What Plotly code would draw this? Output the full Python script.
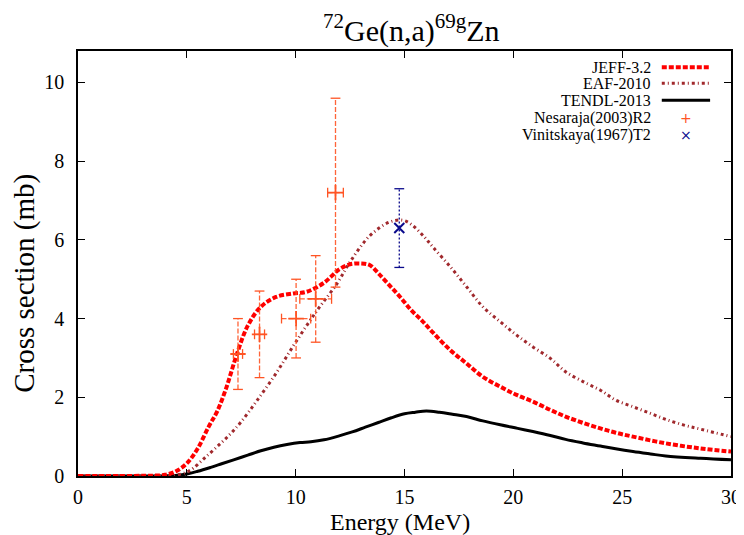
import plotly.graph_objects as go

# ---------------- data ----------------
jeff_e = [0, 1, 2, 3, 3.5, 4.0, 4.5, 5.0, 5.5, 6.0, 6.4, 6.8, 7.3, 7.8, 8.4, 9.1, 9.9, 10.5,
          11.3, 12.0, 12.5, 13.0, 13.4, 13.8, 14.3, 14.8, 15.3, 15.8, 16.3, 17.1, 17.85,
          18.6, 19.4, 20.15, 20.9, 21.7, 22.4, 23.2, 24.0, 24.7, 25.5, 27.0, 28.6, 30.0]
jeff_xs = [0, 0, 0, 0.005, 0.01, 0.03, 0.12, 0.32, 0.7, 1.25, 1.65, 2.22, 3.1, 3.82, 4.3, 4.55,
           4.64, 4.68, 4.91, 5.25, 5.38, 5.40, 5.36, 5.15, 4.85, 4.55, 4.22, 3.95, 3.65, 3.2,
           2.86, 2.52, 2.27, 2.06, 1.89, 1.68, 1.51, 1.35, 1.21, 1.10, 1.00, 0.83, 0.70, 0.62]

eaf_e = [0, 1, 2, 3, 4.0, 4.5, 5.0, 5.3, 5.8, 6.4, 7.0, 7.5, 8.2, 9.1, 10.0, 11.0, 11.9, 12.5,
         13.4, 14.3, 14.9, 15.3, 15.9, 16.3, 17.1, 17.85, 18.6, 19.4, 20.15, 20.9, 21.7, 22.4,
         23.2, 24.0, 24.7, 25.5, 26.3, 27.0, 27.8, 28.6, 30.0]
eaf_xs = [0, 0, 0, 0, 0.003, 0.02, 0.1, 0.2, 0.45, 0.75, 1.07, 1.38, 1.9, 2.61, 3.4, 4.22, 4.89,
          5.44, 6.1, 6.45, 6.5, 6.4, 6.08, 5.82, 5.32, 4.81, 4.30, 3.92, 3.58, 3.28, 2.99, 2.65,
          2.40, 2.18, 1.93, 1.76, 1.59, 1.44, 1.30, 1.19, 1.0]

tendl_e = [0, 1, 2, 3, 4.0, 4.5, 5.0, 5.5, 6.1, 6.6, 7.15, 7.8, 8.4, 9.0, 9.6, 10.2, 10.7, 11.3,
           12.0, 12.6, 13.2, 13.8, 14.4, 15.0, 15.5, 16.0, 16.6, 17.2, 17.85, 18.6, 19.4, 20.2,
           20.9, 21.7, 22.4, 23.2, 24.0, 24.7, 25.5, 26.3, 27.0, 28.6, 30.0]
tendl_xs = [0, 0, 0, 0, 0.003, 0.015, 0.05, 0.12, 0.22, 0.31, 0.41, 0.53, 0.64, 0.73, 0.80,
            0.85, 0.87, 0.92, 1.02, 1.12, 1.24, 1.36, 1.48, 1.58, 1.62, 1.65, 1.62, 1.57, 1.51,
            1.40, 1.30, 1.21, 1.13, 1.03, 0.93, 0.84, 0.76, 0.69, 0.62, 0.56, 0.51, 0.45, 0.41]

nes_e = [7.35, 8.34, 10.02, 10.92, 11.83]
nes_de = [0.21, 0.23, 0.67, 0.73, 0.36]
nes_xs = [3.1, 3.6, 4.0, 4.5, 7.2]
nes_dxs = [0.9, 1.1, 1.0, 1.1, 2.4]

vin_e = [14.76]
vin_xs = [6.3]
vin_dxs = [1.0]

x_ticks = [0, 5, 10, 15, 20, 25, 30]
y_ticks = [0, 2, 4, 6, 8, 10]

FONT = "Liberation Serif"
NES_C = "#ff5424"
VIN_C = "#0a0a8c"

fig = go.Figure()

fig.add_trace(go.Scatter(x=tendl_e, y=tendl_xs, mode="lines", name="TENDL-2013",
                         line=dict(color="black", width=3, shape="spline"), showlegend=False))
fig.add_trace(go.Scatter(x=eaf_e, y=eaf_xs, mode="lines", name="EAF-2010",
                         line=dict(color="#a0282c", width=3, dash="3px,3px,1px,3px", shape="spline"),
                         showlegend=False))
fig.add_trace(go.Scatter(x=jeff_e, y=jeff_xs, mode="lines", name="JEFF-3.2",
                         line=dict(color="#ff0000", width=4, dash="5px,2px", shape="spline"),
                         showlegend=False))

# Nesaraja error bars built from the data arrays
vx, vy, hx, hy = [], [], [], []
capv_x, capv_y, caph_x, caph_y = [], [], [], []
for x, y, dx, dy in zip(nes_e, nes_xs, nes_de, nes_dxs):
    vx += [x, x, None]
    vy += [y - dy, y + dy, None]
    hx += [x - dx, x + dx, None]
    hy += [y, y, None]
    capv_x += [x, x]
    capv_y += [y - dy, y + dy]
    caph_x += [x - dx, x + dx]
    caph_y += [y, y]

fig.add_trace(go.Scatter(x=vx, y=vy, mode="lines", line=dict(color=NES_C, width=1.3, dash="5px,2px"),
                         opacity=0.9, showlegend=False, hoverinfo="skip"))
fig.add_trace(go.Scatter(x=hx, y=hy, mode="lines", line=dict(color=NES_C, width=1.3, dash="5px,2px"),
                         opacity=0.9, showlegend=False, hoverinfo="skip"))
fig.add_trace(go.Scatter(x=capv_x, y=capv_y, mode="markers",
                         marker=dict(symbol="line-ew", size=7, line=dict(color=NES_C, width=1.3)),
                         showlegend=False, hoverinfo="skip"))
fig.add_trace(go.Scatter(x=caph_x, y=caph_y, mode="markers",
                         marker=dict(symbol="line-ns", size=7, line=dict(color=NES_C, width=1.3)),
                         showlegend=False, hoverinfo="skip"))
fig.add_trace(go.Scatter(x=nes_e, y=nes_xs, mode="markers", name="Nesaraja(2003)R2",
                         marker=dict(symbol="cross-thin", size=11, line=dict(color=NES_C, width=1.8)),
                         showlegend=False))

# Vinitskaya error bar
vvx, vvy, vcx, vcy = [], [], [], []
for x, y, dy in zip(vin_e, vin_xs, vin_dxs):
    vvx += [x, x, None]
    vvy += [y - dy, y + dy, None]
    vcx += [x, x]
    vcy += [y - dy, y + dy]
fig.add_trace(go.Scatter(x=vvx, y=vvy, mode="lines", line=dict(color=VIN_C, width=1.3, dash="2px,2px"),
                         showlegend=False, hoverinfo="skip"))
fig.add_trace(go.Scatter(x=vcx, y=vcy, mode="markers",
                         marker=dict(symbol="line-ew", size=7, line=dict(color=VIN_C, width=1.3)),
                         showlegend=False, hoverinfo="skip"))
fig.add_trace(go.Scatter(x=vin_e, y=vin_xs, mode="markers", name="Vinitskaya(1967)T2",
                         marker=dict(symbol="x-thin", size=10, line=dict(color=VIN_C, width=2)),
                         showlegend=False))

# ---------------- custom legend (gnuplot style: text then sample) ----------------
leg_rows = [0.962, 0.924, 0.884, 0.843, 0.802]
leg_names = ["JEFF-3.2", "EAF-2010", "TENDL-2013", "Nesaraja(2003)R2", "Vinitskaya(1967)T2"]
for yy, nm in zip(leg_rows, leg_names):
    fig.add_annotation(x=0.879, y=yy, xref="paper", yref="paper", text=nm, showarrow=False,
                       xanchor="right", yanchor="middle", borderpad=0,
                       font=dict(family=FONT, size=16, color="black"))
fig.add_shape(type="line", xref="paper", yref="paper", x0=0.894, x1=0.968, y0=leg_rows[0], y1=leg_rows[0],
              line=dict(color="#ff0000", width=4, dash="5px,2px"))
fig.add_shape(type="line", xref="paper", yref="paper", x0=0.894, x1=0.968, y0=leg_rows[1], y1=leg_rows[1],
              line=dict(color="#a0282c", width=3, dash="3px,3px,1px,3px"))
fig.add_shape(type="line", xref="paper", yref="paper", x0=0.894, x1=0.968, y0=leg_rows[2], y1=leg_rows[2],
              line=dict(color="black", width=3))
fig.add_annotation(x=0.931, y=leg_rows[3], xref="paper", yref="paper", text="+", showarrow=False,
                   xanchor="center", yanchor="middle", borderpad=0,
                   font=dict(family="DejaVu Sans", size=14, color=NES_C))
fig.add_annotation(x=0.931, y=leg_rows[4], xref="paper", yref="paper", text="×", showarrow=False,
                   xanchor="center", yanchor="middle", borderpad=0,
                   font=dict(family="DejaVu Sans", size=14, color=VIN_C))

# titles
fig.add_annotation(x=0.51, y=1.053, xref="paper", yref="paper",
                   text="<sup>72</sup>Ge(n,a)<sup>69g</sup>Zn", showarrow=False,
                   xanchor="center", yanchor="middle", font=dict(family=FONT, size=30, color="black"))
fig.add_annotation(x=0.4935, y=-0.108, xref="paper", yref="paper", text="Energy (MeV)", showarrow=False,
                   xanchor="center", yanchor="middle", borderpad=0,
                   font=dict(family=FONT, size=24, color="black"))
fig.add_annotation(x=-0.083, y=0.454, xref="paper", yref="paper", text="Cross section (mb)",
                   showarrow=False, textangle=-90, xanchor="center", yanchor="middle", borderpad=0,
                   font=dict(family=FONT, size=29, color="black"))

axis_common = dict(showline=True, linecolor="black", linewidth=1.5, mirror="ticks",
                   ticks="inside", ticklen=7, tickwidth=1.2, tickcolor="black",
                   showgrid=False, zeroline=False,
                   tickfont=dict(family=FONT, size=20, color="black"))

fig.update_layout(
    width=744, height=535,
    margin=dict(l=70, r=21, t=43, b=67),
    paper_bgcolor="white", plot_bgcolor="white",
    showlegend=False,
    xaxis=dict(range=[0, 30], tickvals=x_ticks, ticktext=[str(t) for t in x_ticks], **axis_common),
    yaxis=dict(range=[0, 10.8], tickvals=y_ticks, ticktext=[str(t) for t in y_ticks], **axis_common),
)
fig.update_xaxes(ticklabelstandoff=2)
fig.update_yaxes(ticklabelstandoff=8)

fig.write_html("out.html")
